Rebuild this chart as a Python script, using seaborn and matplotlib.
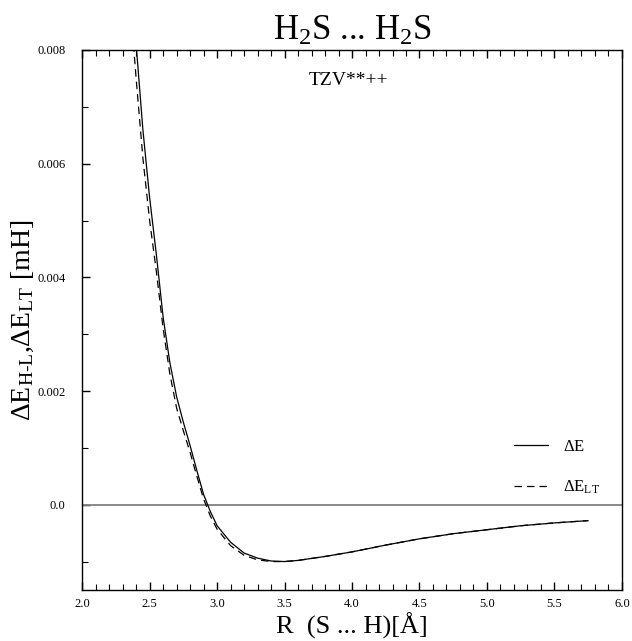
import numpy as np
import pandas as pd
import matplotlib
matplotlib.use("Agg")
import matplotlib.pyplot as plt
import seaborn as sns
from matplotlib.ticker import MultipleLocator, FixedLocator, FixedFormatter

# ---- data ----
r_values = [2.38, 2.40, 2.45, 2.50, 2.55, 2.60, 2.65, 2.70, 2.75, 2.80, 2.85, 2.90,
            2.95, 3.00, 3.10, 3.20, 3.30, 3.40, 3.50, 3.60, 3.80, 4.00, 4.25,
            4.50, 4.75, 5.00, 5.25, 5.50, 5.75]
delta_e = [0.0086, 0.0081, 0.0066, 0.0054, 0.0044, 0.0033, 0.0025, 0.0019, 0.00145,
           0.00104, 0.0006, 0.00018, -0.00012, -0.00037, -0.00066, -0.00085,
           -0.00094, -0.00099, -0.00100, -0.00098, -0.00091, -0.00083, -0.00071,
           -0.00060, -0.00051, -0.00044, -0.00037, -0.00032, -0.00028]
delta_e_lt = [0.0081, 0.0075, 0.0061, 0.0050, 0.0041, 0.0031, 0.0023, 0.0017, 0.0013,
              0.00092, 0.0005, 0.0001, -0.0002, -0.00043, -0.00072, -0.00089,
              -0.00097, -0.00100, -0.00100, -0.00098, -0.00091, -0.00083, -0.00071,
              -0.00060, -0.00051, -0.00044, -0.00037, -0.00032, -0.00028]
x_tick_values = [2.0, 2.5, 3.0, 3.5, 4.0, 4.5, 5.0, 5.5, 6.0]
x_tick_labels = ["2.0", "2.5", "3.0", "3.5", "4.0", "4.5", "5.0", "5.5", "6.0"]
y_tick_values = [0.0, 0.002, 0.004, 0.006, 0.008]
y_tick_labels = ["0.0", "0.002", "0.004", "0.006", "0.008"]
series_labels = [r"$\Delta$E", r"$\Delta$E$_{\mathrm{LT}}$"]

df = pd.DataFrame({"R": r_values, "dE": delta_e, "dELT": delta_e_lt})

sns.set_theme(style="ticks")
plt.rcParams["font.family"] = ["Liberation Serif", "DejaVu Serif"]
plt.rcParams["mathtext.fontset"] = "custom"
plt.rcParams["mathtext.rm"] = "Liberation Serif"
plt.rcParams["mathtext.it"] = "Liberation Serif:italic"
plt.rcParams["mathtext.bf"] = "Liberation Serif:bold"
for key in ["text.color", "axes.labelcolor", "xtick.color", "ytick.color",
            "axes.edgecolor"]:
    plt.rcParams[key] = "black"

fig = plt.figure(figsize=(6.32, 6.41), dpi=100)
ax = fig.add_axes([0.130, 0.0796, 0.854, 0.8424])

ax.axhline(0.0, color="#808080", lw=1.3, zorder=1)
sns.lineplot(data=df, x="R", y="dE", ax=ax, color="black", lw=0.9,
             label=series_labels[0], zorder=3)
sns.lineplot(data=df, x="R", y="dELT", ax=ax, color="black", lw=0.9,
             label=series_labels[1], zorder=2, dashes=False)
ax.lines[-1].set_dashes((6, 4))

ax.set_xlim(2.0, 6.0)
ax.set_ylim(-0.0015, 0.008)

ax.xaxis.set_major_locator(FixedLocator(x_tick_values))
ax.xaxis.set_major_formatter(FixedFormatter(x_tick_labels))
ax.xaxis.set_minor_locator(MultipleLocator(0.1))
ax.yaxis.set_major_locator(FixedLocator(y_tick_values))
ax.yaxis.set_major_formatter(FixedFormatter(y_tick_labels))
ax.yaxis.set_minor_locator(MultipleLocator(0.001))

ax.tick_params(axis="both", which="both", direction="in", colors="black",
               labelsize=9, top=True, right=False)
ax.tick_params(axis="both", which="major", length=6, width=1.0)
ax.tick_params(axis="both", which="minor", length=4, width=0.8)
ax.tick_params(axis="x", which="major", pad=6)
ax.tick_params(axis="y", which="major", pad=12)

for s in ax.spines.values():
    s.set_color("black")
    s.set_linewidth(1.0)

ax.set_xlabel("R  (S ... H)[Å]", fontsize=19, labelpad=2)
ax.set_ylabel(r"$\Delta$E$_{\mathrm{H\text{-}L}}$,$\Delta$E$_{\mathrm{LT}}$ [mH]",
              fontsize=20, labelpad=1)
ax.set_title(r"H$_2$S ... H$_2$S", fontsize=25, pad=7)

ax.text(3.97, 0.00747, "TZV**++", ha="center", va="center", fontsize=14)

leg = ax.legend(loc="upper left", bbox_to_anchor=(0.785, 0.295), frameon=False,
                fontsize=12, handlelength=2.0, handletextpad=0.9,
                labelspacing=1.4, borderpad=0)

fig.savefig("out.png", dpi=100)
